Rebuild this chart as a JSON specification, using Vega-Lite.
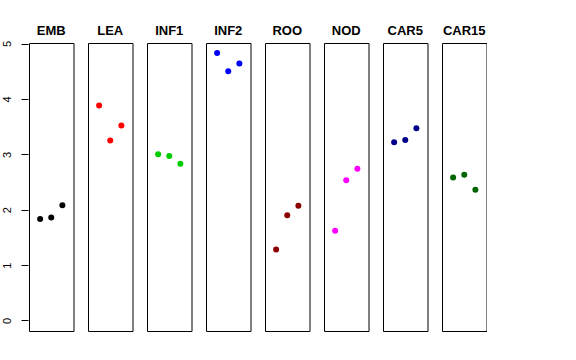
{
  "$schema": "https://vega.github.io/schema/vega-lite/v6.json",
  "background": "white",
  "padding": {"left": 0, "top": 25, "right": 0, "bottom": 0},
  "data": {"values": [
    {"tissue": "EMB", "rep": 1, "value": 1.83},
    {"tissue": "EMB", "rep": 2, "value": 1.86},
    {"tissue": "EMB", "rep": 3, "value": 2.08},
    {"tissue": "LEA", "rep": 1, "value": 3.88},
    {"tissue": "LEA", "rep": 2, "value": 3.25},
    {"tissue": "LEA", "rep": 3, "value": 3.52},
    {"tissue": "INF1", "rep": 1, "value": 3.00},
    {"tissue": "INF1", "rep": 2, "value": 2.97},
    {"tissue": "INF1", "rep": 3, "value": 2.83},
    {"tissue": "INF2", "rep": 1, "value": 4.83},
    {"tissue": "INF2", "rep": 2, "value": 4.50},
    {"tissue": "INF2", "rep": 3, "value": 4.64},
    {"tissue": "ROO", "rep": 1, "value": 1.28},
    {"tissue": "ROO", "rep": 2, "value": 1.90},
    {"tissue": "ROO", "rep": 3, "value": 2.07},
    {"tissue": "NOD", "rep": 1, "value": 1.62},
    {"tissue": "NOD", "rep": 2, "value": 2.53},
    {"tissue": "NOD", "rep": 3, "value": 2.74},
    {"tissue": "CAR5", "rep": 1, "value": 3.22},
    {"tissue": "CAR5", "rep": 2, "value": 3.26},
    {"tissue": "CAR5", "rep": 3, "value": 3.47},
    {"tissue": "CAR15", "rep": 1, "value": 2.58},
    {"tissue": "CAR15", "rep": 2, "value": 2.63},
    {"tissue": "CAR15", "rep": 3, "value": 2.36}
  ]},
  "facet": {
    "column": {
      "field": "tissue",
      "type": "nominal",
      "sort": ["EMB", "LEA", "INF1", "INF2", "ROO", "NOD", "CAR5", "CAR15"],
      "title": null,
      "header": {
        "labelFontWeight": "bold",
        "labelFontSize": 13,
        "labelFont": "Liberation Sans",
        "labelColor": "black",
        "labelPadding": 4
      }
    }
  },
  "spacing": 13,
  "spec": {
    "width": 44.5,
    "height": 288,
    "mark": {"type": "point", "filled": true, "size": 36, "opacity": 1},
    "encoding": {
      "x": {
        "field": "rep",
        "type": "quantitative",
        "scale": {"domain": [0, 4], "nice": false, "zero": false},
        "axis": null
      },
      "y": {
        "field": "value",
        "type": "quantitative",
        "scale": {"domain": [-0.19, 5.01], "nice": false, "zero": false},
        "axis": {
          "title": null,
          "domain": false,
          "grid": false,
          "values": [0, 1, 2, 3, 4, 5],
          "tickSize": 7,
          "tickColor": "black",
          "labelAngle": -90,
          "labelAlign": "center",
          "labelBaseline": "bottom",
          "labelPadding": 9,
          "labelFont": "Liberation Sans",
          "labelFontSize": 11,
          "labelColor": "black"
        }
      },
      "color": {
        "field": "tissue",
        "type": "nominal",
        "scale": {
          "domain": ["EMB", "LEA", "INF1", "INF2", "ROO", "NOD", "CAR5", "CAR15"],
          "range": ["#000000", "#FF0000", "#00CD00", "#0000FF", "#8B0000", "#FF00FF", "#00008B", "#006400"]
        },
        "legend": null
      }
    }
  },
  "config": {
    "view": {"stroke": "black", "strokeWidth": 1}
  }
}
